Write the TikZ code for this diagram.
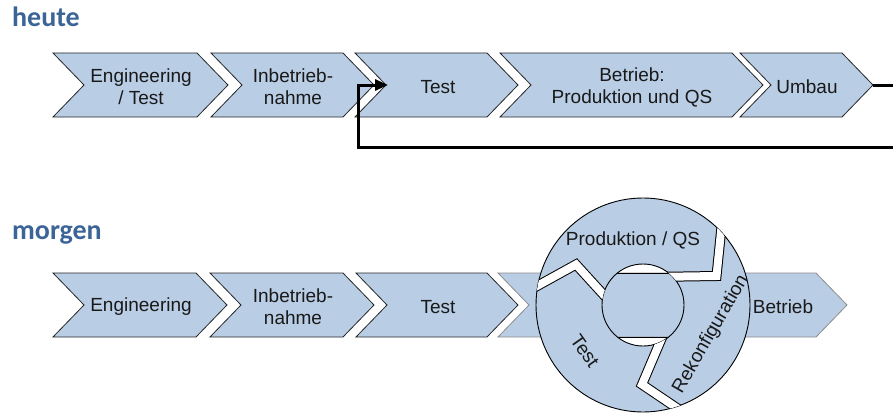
\documentclass[tikz,border=0pt]{standalone}
\usepackage{fontspec}
\setmainfont{Liberation Sans}
\newfontfamily\titlefont{Carlito}
\usetikzlibrary{arrows.meta}
\definecolor{chevblue}{HTML}{B9CDE5}
\definecolor{titleblue}{HTML}{3B6497}

% chevron: style, left x, right x (top corner), top y; height 64, point depth 31
\newcommand\chevron[4]{%
  \draw[#1] (#2,#4) -- (#3,#4) -- ++(31,32) -- ++(-31,32) -- (#2,#4+64) -- ++(31,-32) -- cycle;}

\begin{document}
\begin{tikzpicture}[x=1pt,y=-1pt,
  chev/.style={fill=chevblue, draw=black!85, line width=0.8pt, line join=miter},
  chevgray/.style={chev, draw=black!45},
  lbl/.style={font=\fontsize{19}{22}\selectfont, align=center, text=black!90, inner sep=0pt},
  title/.style={font=\titlefont\bfseries\fontsize{28}{30}\selectfont, text=titleblue, anchor=base west, inner sep=0pt},
  loopline/.style={line width=3pt, line join=miter, -{Triangle[length=13pt,width=11pt]}},
  ringline/.style={draw=black, line width=0.9pt},
  gapedge/.style={line width=10pt, black, line join=miter},
  gapfill/.style={line width=8pt, white, line join=miter}]

\useasboundingbox (0,0) rectangle (893,412);

% ---------- heute ----------
\node[title] (heute) at (12,27) {heute};

\chevron{chev}{53}{197}{53}
\chevron{chev}{211}{343}{53}
\chevron{chev}{355}{487}{53}
\chevron{chev}{500}{732}{53}
\chevron{chev}{740}{842}{53}

\node[lbl] (h1) at (141,87) {Engineering\\/ Test};
\node[lbl] (h2) at (293,87) {Inbetrieb-\\nahme};
\node[lbl] (h3) at (438,87) {Test};
\node[lbl] (h4) at (632,87) {Betrieb:\\Produktion und QS};
\node[lbl] (h5) at (807,87) {Umbau};

\coordinate (umbautip) at (873,85);
\coordinate (testnotch) at (388,85);
\draw[loopline] (umbautip) -- (905,85) |- (358,147) -- (358,85) -- (testnotch);

% ---------- morgen ----------
\node[title] (morgen) at (12,239) {morgen};

\chevron{chev}{53}{196}{273}
\chevron{chev}{210}{343}{273}
\chevron{chev}{356}{487}{273}
\chevron{chevgray}{498}{816}{273}

\node[lbl] (m1) at (141,307) {Engineering};
\node[lbl] (m2) at (293,307) {Inbetrieb-\\nahme};
\node[lbl] (m3) at (438,307) {Test};
\node[lbl] (m4) at (783,307) {Betrieb};

% cycle ring with a hole in the middle
\fill[chevblue, even odd rule] (643,305) circle[radius=107] (643,305) circle[radius=41];
\begin{scope}
  \clip (643,305) circle[radius=41];
  \draw[black, line width=0.9pt] (590,273) -- (700,273) (590,337) -- (700,337);
\end{scope}
\draw[ringline] (643,305) circle[radius=107];
\draw[ringline] (643,305) circle[radius=41];

% zigzag gaps between the three ring segments
\begin{scope}[even odd rule]
  \clip (643,305) circle[radius=107] (643,305) circle[radius=41];
  \foreach \g in {{(519,296) -- (576,264.5) -- (612,304)},
                  {(650,277) -- (716.5,276) -- (723,212)},
                  {(666,328) -- (642,384.5) -- (702,425)}}{
    \draw[gapedge] \g;
    \draw[gapfill] \g;
  }
\end{scope}

\node[lbl] (prod) at (633,240) {Produktion / QS};
\node[lbl, rotate=60] (rekon) at (711,334) {Rekonfiguration};
\node[lbl, rotate=-55] (rtest) at (585,351) {Test};

\end{tikzpicture}
\end{document}
